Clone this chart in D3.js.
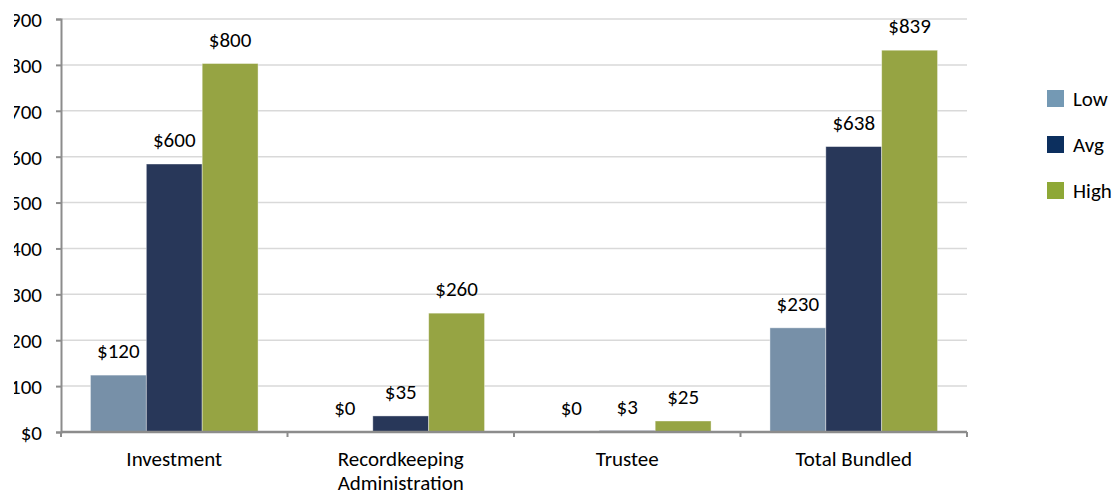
<!DOCTYPE html>
<html>
<head>
<meta charset="utf-8">
<script src="https://cdn.jsdelivr.net/npm/d3@7"></script>
<style>
  body { margin: 0; background: #fff; }
  svg { display: block; font-family: Carlito, Calibri, Lato, "Noto Sans", sans-serif; }
</style>
</head>
<body>
<svg id="chart" width="1117" height="496"></svg>
<script>
// categories (second line used for wrapped labels)
var categories = ["Investment", "Recordkeeping", "Trustee", "Total Bundled"];
var categoryLines = [["Investment"], ["Recordkeeping", "Administration"], ["Trustee"], ["Total Bundled"]];
var seriesNames = ["Low", "Avg", "High"];

// bar heights as drawn in the picture
var lowValues = [124, 0, 0, 227];
var avgValues = [584, 35, 3, 622];
var highValues = [803, 259, 24, 832];

// data labels as printed
var lowLabels = ["$120", "$0", "$0", "$230"];
var avgLabels = ["$600", "$35", "$3", "$638"];
var highLabels = ["$800", "$260", "$25", "$839"];

var yTicks = [0, 100, 200, 300, 400, 500, 600, 700, 800, 900];

var barColors = ["#7790a8", "#283759", "#96a443"];
var legendColors = ["#7499b4", "#0c2f5e", "#8ea836"];

var fontSize = 21;

var svg = d3.select("#chart");
var margin = {left: 61, right: 150, top: 19, bottom: 64};
var width = +svg.attr("width"), height = +svg.attr("height");

var x0 = d3.scaleBand()
  .domain(categories)
  .range([margin.left, width - margin.right])
  .paddingInner(0.26)
  .paddingOuter(0.13);

var x1 = d3.scaleBand()
  .domain(seriesNames)
  .range([0, x0.bandwidth()]);

var y = d3.scaleLinear()
  .domain([0, 900])
  .range([height - margin.bottom, margin.top]);

var series = seriesNames.map(function(name, i) {
  var vals = [lowValues, avgValues, highValues][i];
  var labs = [lowLabels, avgLabels, highLabels][i];
  return categories.map(function(c, j) {
    return {cat: c, series: name, value: vals[j], label: labs[j], color: barColors[i]};
  });
});

// gridlines
svg.append("g")
  .selectAll("line")
  .data(yTicks.slice(1))
  .enter().append("line")
  .attr("x1", margin.left)
  .attr("x2", width - margin.right)
  .attr("y1", function(d) { return y(d); })
  .attr("y2", function(d) { return y(d); })
  .attr("stroke", "#d9d9d9")
  .attr("stroke-width", 1.5);

// y axis, left edge of the labels is cut off like in the original
svg.append("clipPath").attr("id", "yclip")
  .append("rect").attr("x", 14 - margin.left).attr("y", 0).attr("width", 100).attr("height", height);

var yAxis = svg.append("g")
  .attr("transform", "translate(" + margin.left + ",0)")
  .attr("clip-path", "url(#yclip)")
  .call(d3.axisLeft(y).tickValues(yTicks).tickFormat(function(d) { return "$" + d; }).tickSize(5).tickPadding(14));
yAxis.select(".domain").attr("stroke", "#8c8c8c").attr("stroke-width", 2);
yAxis.selectAll(".tick line").attr("stroke", "#8c8c8c").attr("stroke-width", 2);
yAxis.selectAll(".tick text")
  .attr("font-size", fontSize)
  .attr("fill", "#000")
  .attr("font-family", "Carlito, Calibri, Lato, sans-serif")
  .attr("dy", "0.35em");

// bars
var groups = svg.append("g")
  .selectAll("g")
  .data(series)
  .enter().append("g");

groups.selectAll("rect")
  .data(function(d) { return d; })
  .enter().append("rect")
  .attr("x", function(d) { return x0(d.cat) + x1(d.series); })
  .attr("width", x1.bandwidth())
  .attr("y", function(d) { return y(d.value); })
  .attr("height", function(d) { return y(0) - y(d.value); })
  .attr("fill", function(d) { return d.color; })
  .attr("stroke", "#ffffff")
  .attr("stroke-opacity", 0.5)
  .attr("stroke-width", 0.8);

groups.selectAll("text")
  .data(function(d) { return d; })
  .enter().append("text")
  .attr("x", function(d) { return x0(d.cat) + x1(d.series) + x1.bandwidth() / 2; })
  .attr("y", function(d) { return y(d.value) - 17; })
  .attr("text-anchor", "middle")
  .attr("font-size", fontSize)
  .attr("fill", "#000")
  .text(function(d) { return d.label; });

// x axis
var xAxisY = y(0);
svg.append("line")
  .attr("x1", margin.left).attr("x2", width - margin.right)
  .attr("y1", xAxisY).attr("y2", xAxisY)
  .attr("stroke", "#8c8c8c").attr("stroke-width", 2.5);

var step = x0.step();
var tickXs = categories.map(function(c) { return x0(c) - x0.paddingInner() * step / 2; });
tickXs.push(width - margin.right);
svg.append("g").selectAll("line")
  .data(tickXs)
  .enter().append("line")
  .attr("x1", function(d) { return d; }).attr("x2", function(d) { return d; })
  .attr("y1", xAxisY).attr("y2", xAxisY + 5)
  .attr("stroke", "#8c8c8c").attr("stroke-width", 2);

var catText = svg.append("g").selectAll("text")
  .data(categories)
  .enter().append("text")
  .attr("x", function(c) { return x0(c) + x0.bandwidth() / 2; })
  .attr("y", xAxisY + 34)
  .attr("text-anchor", "middle")
  .attr("font-size", fontSize)
  .attr("fill", "#000");
catText.each(function(c, i) {
  var t = d3.select(this);
  categoryLines[i].forEach(function(line, k) {
    t.append("tspan")
      .attr("x", x0(c) + x0.bandwidth() / 2)
      .attr("dy", k === 0 ? 0 : 24)
      .text(line);
  });
});

// legend
var legend = svg.append("g")
  .attr("transform", "translate(1047,90)")
  .selectAll("g")
  .data(seriesNames)
  .enter().append("g")
  .attr("transform", function(d, i) { return "translate(0," + (i * 46) + ")"; });
legend.append("rect")
  .attr("width", 17).attr("height", 17)
  .attr("fill", function(d, i) { return legendColors[i]; });
legend.append("text")
  .attr("x", 26).attr("y", 16)
  .attr("font-size", fontSize)
  .attr("fill", "#000")
  .text(function(d) { return d; });
</script>
</body>
</html>
